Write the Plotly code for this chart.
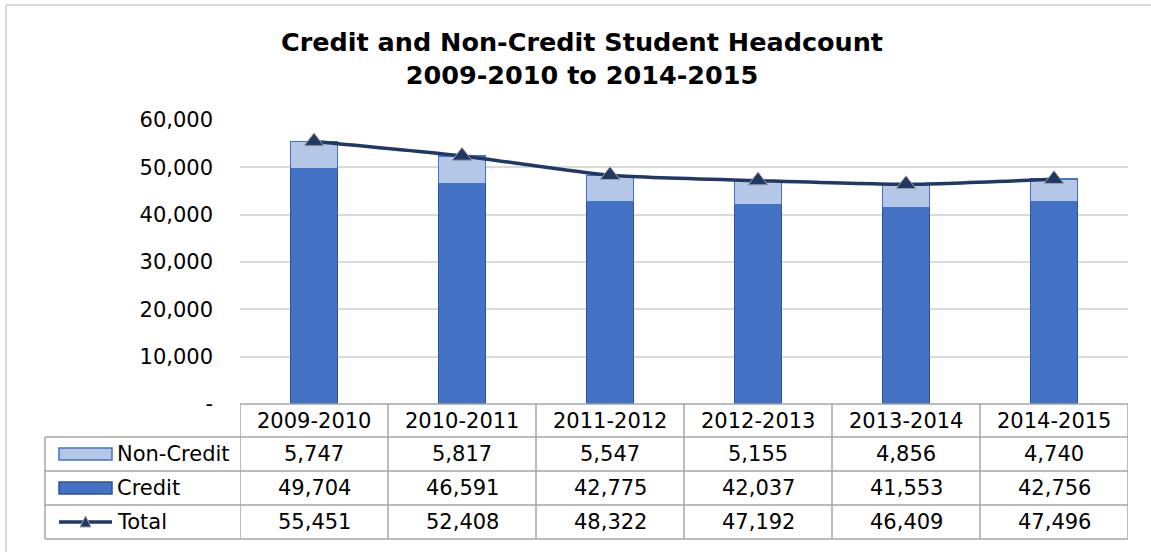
import plotly.graph_objects as go

# ---- data ----
years = ["2009-2010", "2010-2011", "2011-2012", "2012-2013", "2013-2014", "2014-2015"]
non_credit = [5747, 5817, 5547, 5155, 4856, 4740]
credit = [49704, 46591, 42775, 42037, 41553, 42756]
total = [55451, 52408, 48322, 47192, 46409, 47496]
series_names = ["Non-Credit", "Credit", "Total"]
ytick_vals = [0, 10000, 20000, 30000, 40000, 50000, 60000]
ytick_text = ["-", "10,000", "20,000", "30,000", "40,000", "50,000", "60,000"]

# ---- geometry (pixels) ----
W, H = 1151, 552
L, R, T, B = 240, 1128, 120, 404
FONT = "DejaVu Sans"
FS = 21

def py(p):
    return (B - p) / (B - T)

def px(p):
    return (p - L) / (R - L)

C_CREDIT = "#4472C4"
C_CREDIT_LINE = "#2F528F"
C_NON = "#B4C7E7"
C_NON_LINE = "#4472C4"
C_TOTAL = "#203864"
C_GRID = "#D9D9D9"
C_TAB = "#A6A6A6"

fig = go.Figure()
xs = list(range(len(years)))
fig.add_trace(go.Bar(x=xs, y=credit, name=series_names[1], width=0.32,
                     marker=dict(color=C_CREDIT, line=dict(color=C_CREDIT_LINE, width=1.5))))
fig.add_trace(go.Bar(x=xs, y=non_credit, name=series_names[0], width=0.32,
                     marker=dict(color=C_NON, line=dict(color=C_NON_LINE, width=1.5))))
fig.add_trace(go.Scatter(x=xs, y=total, name=series_names[2], mode="lines+markers",
                         line=dict(color=C_TOTAL, width=3.5, shape="spline", smoothing=0.6),
                         marker=dict(symbol="triangle-up", size=17, color=C_TOTAL,
                                     line=dict(color="#A0A0A0", width=1))))

shapes = []
annotations = []

# chart frame (left and top edges)
shapes.append(dict(type="line", xref="paper", yref="paper", x0=px(6), x1=px(W + 5),
                   y0=py(5), y1=py(5), line=dict(color=C_GRID, width=2)))
shapes.append(dict(type="line", xref="paper", yref="paper", x0=px(6), x1=px(6),
                   y0=py(5), y1=py(H + 5), line=dict(color=C_GRID, width=2)))

# table
row_lines = [404, 437, 471, 505, 539]
left_x = px(45)
n = len(years)
tl = dict(color=C_TAB, width=1.5)
shapes.append(dict(type="line", xref="x", yref="paper", x0=-0.5, x1=n - 0.5,
                   y0=py(row_lines[0]), y1=py(row_lines[0]), line=tl))
for rl in row_lines[1:]:
    shapes.append(dict(type="line", xref="paper", yref="paper", x0=left_x, x1=1,
                       y0=py(rl), y1=py(rl), line=tl))
for i in range(n + 1):
    shapes.append(dict(type="line", xref="x", yref="paper", x0=i - 0.5, x1=i - 0.5,
                       y0=py(row_lines[0]), y1=py(row_lines[-1]), line=tl))
shapes.append(dict(type="line", xref="paper", yref="paper", x0=left_x, x1=left_x,
                   y0=py(row_lines[1]), y1=py(row_lines[-1]), line=tl))

def cell(x, xref, ypix, text, xanchor="center"):
    annotations.append(dict(x=x, xref=xref, y=py(ypix), yref="paper", text=text,
                            showarrow=False, xanchor=xanchor, yanchor="middle",
                            font=dict(family=FONT, size=FS, color="#000000")))

centers = [(row_lines[i] + row_lines[i + 1]) / 2 for i in range(4)]
rows = [non_credit, credit, total]
for i, yr in enumerate(years):
    cell(i, "x", centers[0], yr)
    for r, vals in enumerate(rows):
        cell(i, "x", centers[r + 1], f"{vals[i]:,}")

# legend keys + labels
kx0, kx1 = px(59), px(112)
for r, name in enumerate(series_names):
    cy = centers[r + 1]
    if r == 0:
        shapes.append(dict(type="rect", xref="paper", yref="paper", x0=kx0, x1=kx1,
                           y0=py(cy + 6), y1=py(cy - 6), fillcolor=C_NON,
                           line=dict(color=C_NON_LINE, width=1.5)))
    elif r == 1:
        shapes.append(dict(type="rect", xref="paper", yref="paper", x0=kx0, x1=kx1,
                           y0=py(cy + 6), y1=py(cy - 6), fillcolor=C_CREDIT,
                           line=dict(color=C_CREDIT_LINE, width=1.5)))
    else:
        shapes.append(dict(type="line", xref="paper", yref="paper", x0=kx0, x1=kx1,
                           y0=py(cy), y1=py(cy), line=dict(color=C_TOTAL, width=3.5)))
        mx = (59 + 112) / 2
        shapes.append(dict(type="path", xref="paper", yref="paper",
                           path=f"M {px(mx-5.5)},{py(cy+5)} L {px(mx+5.5)},{py(cy+5)} L {px(mx)},{py(cy-6)} Z",
                           fillcolor=C_TOTAL, line=dict(color="#A0A0A0", width=1)))
    cell(px(115), "paper", cy, name, xanchor="left")

fig.update_layout(
    width=W, height=H,
    margin=dict(l=L, r=W - R, t=T, b=H - B),
    barmode="stack",
    showlegend=False,
    plot_bgcolor="white", paper_bgcolor="white",
    font=dict(family=FONT, size=FS, color="#000000"),
    title=dict(text="<b>Credit and Non-Credit Student Headcount<br>2009-2010 to 2014-2015</b>",
               x=582 / W, xref="container", xanchor="center",
               y=1 - 51 / H, yref="container", yanchor="middle",
               font=dict(family=FONT, size=25.5, color="#000000")),
    xaxis=dict(range=[-0.5, n - 0.5], showticklabels=False, showgrid=False,
               zeroline=False, showline=False, ticks=""),
    yaxis=dict(range=[0, 60000], tickvals=ytick_vals, ticktext=ytick_text,
               showgrid=True, gridcolor=C_GRID, gridwidth=1.5, zeroline=False,
               showline=False, ticks="", ticklabelstandoff=26,
               tickfont=dict(family=FONT, size=FS, color="#000000")),
    shapes=shapes,
    annotations=annotations,
)

fig.write_html("out.html", config={"displayModeBar": False},
               post_script="document.body.style.margin='0';document.body.style.overflow='hidden';")
